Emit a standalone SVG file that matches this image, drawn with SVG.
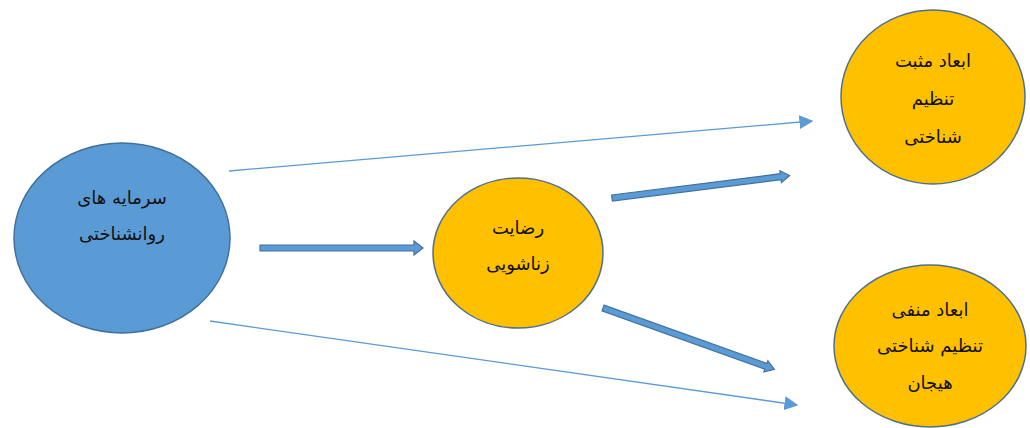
<svg xmlns="http://www.w3.org/2000/svg" width="1030" height="428" viewBox="0 0 1030 428">
<style>
.blue{fill:#5b9bd5;stroke:#41719c;stroke-width:1.5}
.gold{fill:#ffc000;stroke:#4f6f8f;stroke-width:1.5}
.t{font-family:"DejaVu Sans","Noto Sans",sans-serif;font-size:18px;fill:#111;text-anchor:middle;direction:rtl}
.thin{stroke:#5b9bd5;stroke-width:1.3;fill:none}
.thick{fill:#5b9bd5;stroke:#41719c;stroke-width:1.2}
</style>
<defs>
<marker id="ah" viewBox="0 0 10 10" refX="9" refY="5" markerWidth="14" markerHeight="14" markerUnits="userSpaceOnUse" orient="auto">
<path d="M0,0 L10,5 L0,10 z" fill="#5b9bd5"/>
</marker>
</defs>
<rect width="1030" height="428" fill="#fff"/>
<g id="connectors">
<line class="thin" x1="229" y1="171" x2="812" y2="121" marker-end="url(#ah)"/>
<line class="thin" x1="210" y1="321" x2="797" y2="405" marker-end="url(#ah)"/>
<polygon class="thick" transform="translate(260,248)" points="0,-3 154,-3 154,-7 163,0 154,7 154,3 0,3"/>
<polygon class="thick" transform="translate(612,198) rotate(-7.2)" points="0,-3 170,-3 170,-6 179,0 170,6 170,3 0,3"/>
<polygon class="thick" transform="translate(603,308) rotate(19.7)" points="0,-3 173,-3 173,-6 182,0 173,6 173,3 0,3"/>
</g>
<g id="node-capital">
<ellipse class="blue" cx="122" cy="238" rx="108" ry="95"/>
<text class="t" x="122" y="204">سرمایه های</text>
<text class="t" x="122" y="240">روانشناختی</text>
</g>
<g id="node-satisfaction">
<ellipse class="gold" cx="518" cy="253" rx="85" ry="75"/>
<text class="t" x="518" y="234">رضایت</text>
<text class="t" x="518" y="270">زناشویی</text>
</g>
<g id="node-positive">
<ellipse class="gold" cx="933" cy="97" rx="92" ry="87"/>
<text class="t" x="933" y="67">ابعاد مثبت</text>
<text class="t" x="933" y="105">تنظیم</text>
<text class="t" x="933" y="143">شناختی</text>
</g>
<g id="node-negative">
<ellipse class="gold" cx="930" cy="346" rx="96" ry="81"/>
<text class="t" x="930" y="316">ابعاد منفی</text>
<text class="t" x="930" y="352">تنظیم شناختی</text>
<text class="t" x="930" y="389">هیجان</text>
</g>
</svg>
